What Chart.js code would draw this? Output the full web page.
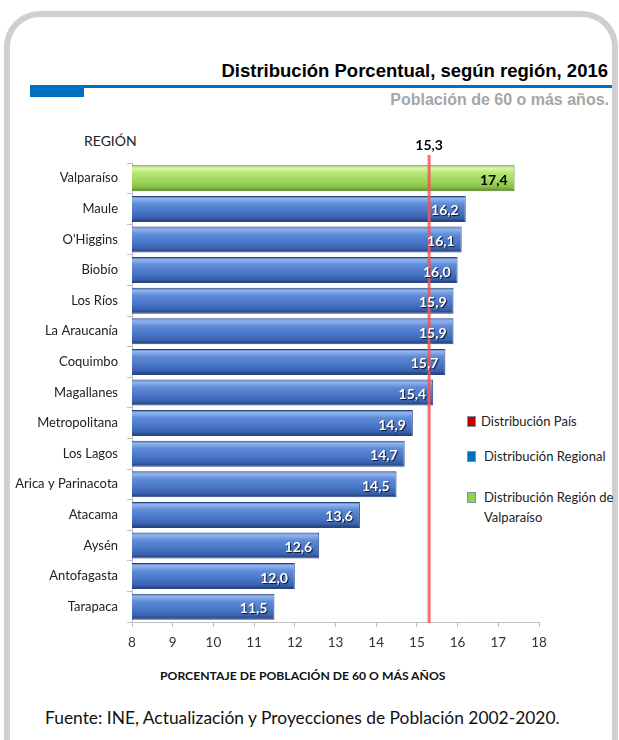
<!DOCTYPE html>
<html lang="es">
<head>
<meta charset="UTF-8">
<title>Distribución Porcentual, según región, 2016</title>
<script src="https://cdn.jsdelivr.net/npm/chart.js@4"></script>
<style>
  html, body { margin: 0; padding: 0; background: #fff; }
  body { width: 619px; height: 740px; position: relative; overflow: hidden; font-family: Lato, "Open Sans", sans-serif; }
  .frame { position: absolute; left: 4px; top: 11px; width: 602px; height: 760px; border: 6px solid #cfcfcf; border-radius: 36px; }
  .title { position: absolute; right: 11px; top: 60px; font: bold 18.5px "Liberation Sans", Arial, sans-serif; color: #000; }
  .rule { position: absolute; left: 30px; top: 85px; width: 582px; height: 3px; background: #0070c0; }
  .block { position: absolute; left: 30px; top: 85px; width: 54px; height: 12px; background: #0070c0; }
  .subtitle { position: absolute; right: 10px; top: 91px; font: bold 16px "Liberation Sans", Arial, sans-serif; color: #a6a6a6; }
  .region { position: absolute; left: 84px; top: 132px; font-size: 14px; color: #222; }
  .axis-title { position: absolute; left: 160px; top: 668px; font-weight: bold; font-size: 12.2px; color: #111; }
  .source { position: absolute; left: 45px; top: 707px; font-size: 17.4px; color: #111; }
  .legend { position: absolute; left: 467px; font-size: 13px; color: #222; line-height: 20px; }
  .legend i { position: absolute; left: 0; top: 5px; width: 7px; height: 9px; border: 1px solid #7f8fa6; }
  .legend span { display: block; margin-left: 17px; }
  canvas { position: absolute; left: 0; top: 0; }
</style>
</head>
<body>
  <div class="frame"></div>
  <div class="title">Distribución Porcentual, según región, 2016</div>
  <div class="rule"></div>
  <div class="block"></div>
  <div class="subtitle">Población de 60 o más años.</div>
  <div class="region">REGIÓN</div>

  <div class="legend" style="top:411px"><i style="background:#c00000"></i><span style="margin-left:14px">Distribución País</span></div>
  <div class="legend" style="top:446px"><i style="background:#0070c0"></i><span>Distribución Regional</span></div>
  <div class="legend" style="top:487px"><i style="background:#92d050"></i><span>Distribución Región de<br>Valparaíso</span></div>

  <div class="axis-title">PORCENTAJE DE POBLACIÓN DE 60 O MÁS AÑOS</div>
  <div class="source">Fuente: INE, Actualización y Proyecciones de Población 2002-2020.</div>

  <canvas id="chart" width="619" height="740"></canvas>

<script>
const regions = ["Valparaíso", "Maule", "O'Higgins", "Biobío", "Los Ríos", "La Araucanía", "Coquimbo",
  "Magallanes", "Metropolitana", "Los Lagos", "Arica y Parinacota", "Atacama", "Aysén", "Antofagasta", "Tarapaca"];
const values = [17.4, 16.2, 16.1, 16.0, 15.9, 15.9, 15.7, 15.4, 14.9, 14.7, 14.5, 13.6, 12.6, 12.0, 11.5];
const highlight = [true, false, false, false, false, false, false, false, false, false, false, false, false, false, false];
const countryValue = 15.3;
const xTicks = [8, 9, 10, 11, 12, 13, 14, 15, 16, 17, 18];

const fmt = v => v.toFixed(1).replace(".", ",");

// vertical gradient for the bevelled bar look
function barFill(ctx) {
  const chart = ctx.chart;
  const y = chart.scales.y;
  const green = highlight[ctx.dataIndex];
  if (!y || ctx.dataIndex === undefined) return green ? "#9ad55a" : "#4673c4";
  const cy = y.getPixelForValue(ctx.dataIndex);
  const h = (y.bottom - y.top) / regions.length * 0.85;
  if (!isFinite(cy) || !isFinite(h) || h <= 0) return green ? "#9ad55a" : "#4673c4";
  const g = chart.ctx.createLinearGradient(0, cy - h / 2, 0, cy + h / 2);
  if (green) {
    g.addColorStop(0, "#8cc044");
    g.addColorStop(0.1, "#d9f8ad");
    g.addColorStop(0.3, "#b4e772");
    g.addColorStop(0.65, "#9ad55a");
    g.addColorStop(0.85, "#84bf45");
    g.addColorStop(1, "#557f20");
  } else {
    g.addColorStop(0, "#3c64b0");
    g.addColorStop(0.1, "#93b6ef");
    g.addColorStop(0.3, "#5f8cd8");
    g.addColorStop(0.65, "#4673c4");
    g.addColorStop(0.85, "#3960ab");
    g.addColorStop(1, "#1d3874");
  }
  return g;
}

const countryLine = {
  id: "countryLine",
  afterDatasetsDraw(chart) {
    const { ctx, scales: { x, y } } = chart;
    const px = x.getPixelForValue(countryValue);
    ctx.save();
    ctx.strokeStyle = "rgba(245,85,85,0.85)";
    ctx.lineWidth = 3;
    ctx.beginPath();
    ctx.moveTo(px, y.top - 8);
    ctx.lineTo(px, y.bottom + 1);
    ctx.stroke();
    ctx.fillStyle = "#000";
    ctx.font = "bold 14px Lato";
    ctx.textAlign = "center";
    ctx.textBaseline = "middle";
    ctx.fillText(fmt(countryValue), px, y.top - 18);
    ctx.restore();
  }
};

const barLabels = {
  id: "barLabels",
  afterDatasetsDraw(chart) {
    const { ctx } = chart;
    const meta = chart.getDatasetMeta(0);
    ctx.save();
    ctx.font = "bold 14px Lato";
    ctx.textAlign = "right";
    ctx.textBaseline = "middle";
    meta.data.forEach((bar, i) => {
      const txt = fmt(values[i]);
      if (highlight[i]) {
        ctx.fillStyle = "#000";
        ctx.fillText(txt, bar.x - 7, bar.y + 2);
      } else {
        ctx.shadowColor = "rgba(0,0,0,0.8)";
        ctx.shadowOffsetX = 1;
        ctx.shadowOffsetY = 1;
        ctx.shadowBlur = 1;
        ctx.fillStyle = "#fff";
        ctx.fillText(txt, bar.x - 7, bar.y + 2);
        ctx.shadowColor = "transparent";
      }
    });
    ctx.restore();
  }
};

const chart = new Chart(document.getElementById("chart"), {
  type: "bar",
  data: {
    labels: regions,
    datasets: [{
      data: values,
      backgroundColor: barFill,
      borderColor: highlight.map(h => h ? "#5a7f2a" : "#2a4682"),
      borderWidth: 1,
      borderSkipped: "start",
      categoryPercentage: 1,
      barPercentage: 0.85
    }]
  },
  options: {
    indexAxis: "y",
    responsive: false,
    animation: false,
    layout: { padding: { top: 163, right: 80, left: 0, bottom: 0 } },
    plugins: { legend: { display: false }, tooltip: { enabled: false } },
    scales: {
      x: {
        min: 8, max: 18,
        afterFit(s) { s.height = 118; },
        afterBuildTicks(s) { s.ticks = xTicks.map(v => ({ value: v })); },
        grid: { drawOnChartArea: false, color: "#bfbfbf", tickLength: 5 },
        border: { color: "#bfbfbf" },
        ticks: { color: "#333", font: { family: "Lato", size: 13.5 }, padding: 8,
          callback: v => String(v) }
      },
      y: {
        afterFit(s) { s.width = 132; },
        grid: { drawOnChartArea: false, color: "#bfbfbf", tickLength: 5, offset: true },
        border: { color: "#bfbfbf" },
        ticks: { color: "#222", font: { family: "Lato", size: 13 }, padding: 9 }
      }
    }
  },
  plugins: [countryLine, barLabels]
});
// second pass so the gradients are built from the laid-out scale
chart.update("none");
</script>
</body>
</html>
